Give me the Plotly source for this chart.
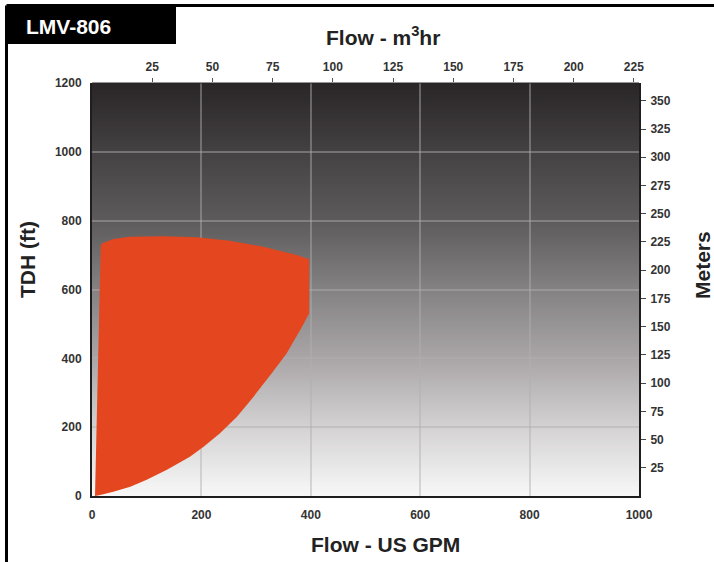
import base64
import struct
import zlib

import plotly.graph_objects as go

# ---------------- data ----------------
model_label = "LMV-806"

# Operating envelope outline (Flow in US GPM, TDH in ft), traced clockwise
env_flow_gpm = [5.5, 8, 12, 16, 18, 39, 70, 130, 191, 252, 313, 374, 397,
                397, 385, 374, 356, 331, 295, 265, 234, 204, 179, 137, 100, 70, 39, 15, 5.5]
env_tdh_ft = [0, 200, 450, 729, 734, 747, 753, 755, 752, 742, 724, 700, 688,
              531, 495, 463, 415, 362, 288, 230, 182, 143, 114, 76, 47, 27, 12, 3, 0]

gpm_ticks = [0, 200, 400, 600, 800, 1000]
ft_ticks = [0, 200, 400, 600, 800, 1000, 1200]
m3hr_ticks = [25, 50, 75, 100, 125, 150, 175, 200, 225]
meter_ticks = [25, 50, 75, 100, 125, 150, 175, 200, 225, 250, 275, 300, 325, 350]

GPM_MAX = 1000
FT_MAX = 1200
GPM_PER_M3HR = 4.40287
M_PER_FT = 0.3048

# ---------------- background gradient (style) ----------------
grad_stops = [(0.0, (42, 38, 39)), (1 / 6, (69, 66, 67)), (2 / 6, (94, 91, 92)),
              (3 / 6, (133, 130, 131)), (4 / 6, (170, 166, 167)),
              (5 / 6, (212, 210, 211)), (1.0, (248, 248, 248))]


def interp_color(t):
    for (t0, c0), (t1, c1) in zip(grad_stops[:-1], grad_stops[1:]):
        if t0 <= t <= t1:
            f = (t - t0) / (t1 - t0)
            return tuple(int(round(a + (b - a) * f)) for a, b in zip(c0, c1))
    return grad_stops[-1][1]


def gradient_png(h=256):
    raw = b"".join(b"\x00" + bytes(interp_color(i / (h - 1))) for i in range(h))

    def chunk(tag, data):
        c = struct.pack(">I", len(data)) + tag + data
        return c + struct.pack(">I", zlib.crc32(tag + data) & 0xFFFFFFFF)

    png = b"\x89PNG\r\n\x1a\n"
    png += chunk(b"IHDR", struct.pack(">IIBBBBB", 1, h, 8, 2, 0, 0, 0))
    png += chunk(b"IDAT", zlib.compress(raw, 9))
    png += chunk(b"IEND", b"")
    return "data:image/png;base64," + base64.b64encode(png).decode()


# ---------------- figure ----------------
W, H = 714, 562
L, R, T, B = 92, 639, 83, 496  # plot area pixel box


def px(xp):
    return (xp - L) / (R - L)


def py(yp):
    return (B - yp) / (B - T)


RED = "#E4461F"
TICK_FONT = dict(family="Liberation Sans, Arial, sans-serif", size=12, color="#333333", weight="bold")
TITLE_FONT = dict(family="Liberation Sans, Arial, sans-serif", size=21, color="#222222", weight="bold")
GRID = "rgba(175,175,175,0.45)"

fig = go.Figure()
fig.add_trace(go.Scatter(
    x=env_flow_gpm, y=env_tdh_ft, mode="lines", fill="toself",
    fillcolor=RED, line=dict(width=0, color=RED), hoverinfo="skip", showlegend=False,
))
# secondary-unit view of the same envelope (invisible), anchors the top/right axes
fig.add_trace(go.Scatter(
    x=[v / GPM_PER_M3HR for v in env_flow_gpm], y=[v * M_PER_FT for v in env_tdh_ft],
    xaxis="x2", yaxis="y2", mode="lines", line=dict(width=0), opacity=0,
    hoverinfo="skip", showlegend=False,
))

fig.update_layout(
    width=W, height=H,
    margin=dict(l=L, r=W - R, t=T, b=H - B, pad=0),
    paper_bgcolor="white", plot_bgcolor="rgba(0,0,0,0)",
    xaxis=dict(range=[0, GPM_MAX], tickvals=gpm_ticks, showgrid=True, gridcolor=GRID, gridwidth=2,
               zeroline=False, showline=True, linecolor="#1e1e1e", linewidth=2, mirror=False,
               ticks="", ticklabelstandoff=7, tickfont=TICK_FONT, fixedrange=True),
    yaxis=dict(range=[0, FT_MAX], tickvals=ft_ticks, showgrid=True, gridcolor=GRID, gridwidth=2,
               zeroline=False, showline=True, linecolor="#1e1e1e", linewidth=2,
               ticks="", ticklabelstandoff=6, tickfont=TICK_FONT, fixedrange=True),
    xaxis2=dict(range=[0, GPM_MAX / GPM_PER_M3HR], tickvals=m3hr_ticks, overlaying="x", side="top",
                anchor="y", showgrid=False, zeroline=False, showline=False,
                ticks="outside", ticklen=4, tickcolor="#555555", tickwidth=1,
                ticklabelstandoff=2, tickfont=TICK_FONT, fixedrange=True),
    yaxis2=dict(range=[0, FT_MAX * M_PER_FT], tickvals=meter_ticks, overlaying="y", side="right",
                anchor="x", showgrid=False, zeroline=False, showline=True, linecolor="#1e1e1e",
                linewidth=2, ticks="outside", ticklen=5, tickcolor="#444444", tickwidth=1,
                ticklabelstandoff=2, tickfont=TICK_FONT, fixedrange=True),
    images=[dict(source=gradient_png(), xref="x", yref="y", x=0, y=FT_MAX,
                 sizex=GPM_MAX, sizey=FT_MAX, sizing="stretch", layer="below", xanchor="left",
                 yanchor="top")],
    shapes=[
        # outer frame: top and left rules
        dict(type="line", xref="paper", yref="paper", x0=px(6.5), x1=px(720), y0=py(5.5), y1=py(5.5),
             line=dict(color="black", width=3)),
        dict(type="line", xref="paper", yref="paper", x0=px(6.5), x1=px(6.5), y0=py(5.5), y1=py(570),
             line=dict(color="black", width=3)),
        # model label box
        dict(type="rect", xref="paper", yref="paper", x0=px(7), x1=px(176), y0=py(44), y1=py(4),
             fillcolor="black", line=dict(width=0)),
        # top border of plot area
        dict(type="line", xref="paper", yref="paper", x0=0, x1=1, y0=1, y1=1,
             line=dict(color="#2a2627", width=1)),
    ],
    annotations=[
        dict(text=model_label, xref="paper", yref="paper", x=px(24), y=py(27), xanchor="left",
             yanchor="middle", showarrow=False,
             font=dict(family="Liberation Sans, Arial, sans-serif", size=21, color="white", weight="bold")),
        dict(text="Flow - m<sup>3</sup>hr", xref="paper", yref="paper", x=px(383), y=py(36),
             xanchor="center", yanchor="middle", showarrow=False, font=TITLE_FONT),
        dict(text="Flow - US GPM", xref="paper", yref="paper", x=px(385), y=py(544),
             xanchor="center", yanchor="middle", showarrow=False, font=TITLE_FONT),
        dict(text="TDH (ft)", xref="paper", yref="paper", x=px(27), y=py(260), textangle=-90,
             xanchor="center", yanchor="middle", showarrow=False, font=TITLE_FONT),
        dict(text="Meters", xref="paper", yref="paper", x=px(702), y=py(265), textangle=-90,
             xanchor="center", yanchor="middle", showarrow=False, font=TITLE_FONT),
    ],
)

fig.write_html("out.html", config={"displayModeBar": False},
               post_script="document.body.style.margin='0';")
